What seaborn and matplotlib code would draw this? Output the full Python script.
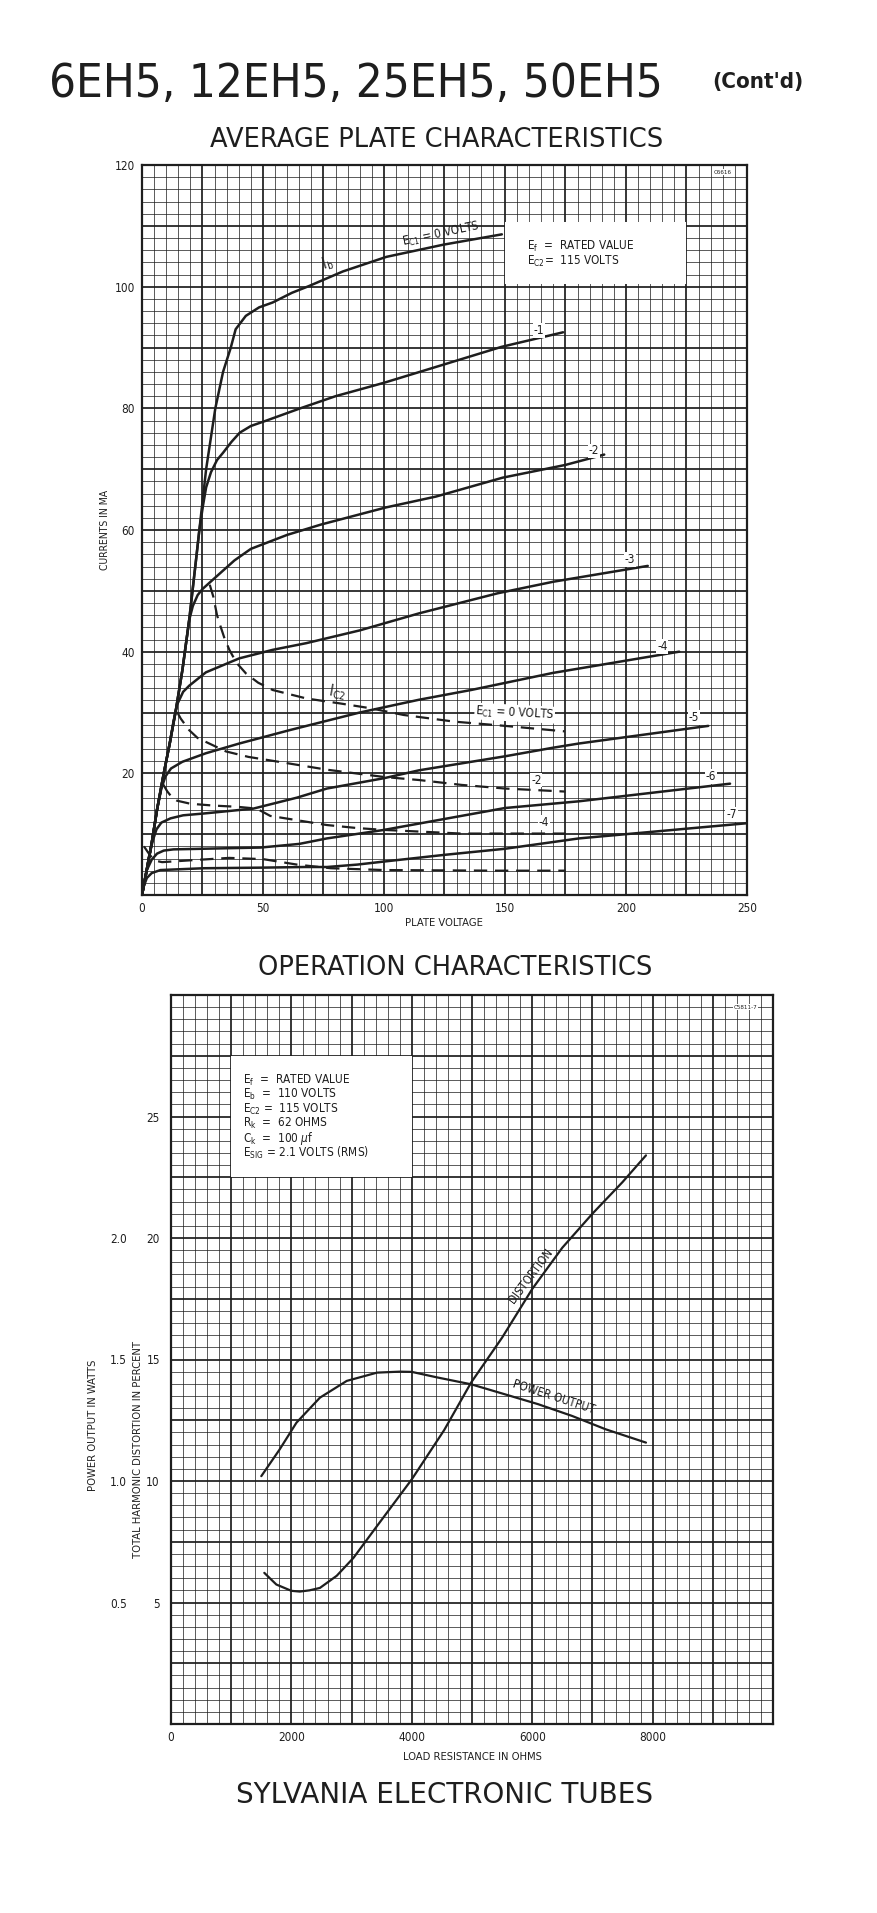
import pandas as pd
import matplotlib.pyplot as plt
import seaborn as sns
from matplotlib.ticker import MultipleLocator, FuncFormatter
from matplotlib.patches import Rectangle

# ---- Average plate characteristics: plate current Ib (plate volts, mA) ----
ib0_v = [0, 2, 4, 6.2, 9, 11.5, 14, 16.7, 19.5, 22.3, 23.7, 26.5, 30.3, 33.5, 36.7, 38.7, 42.9, 48.4, 54, 62, 69, 83, 101, 124.5, 148.7]
ib0_i = [0, 4.2, 8.5, 14, 20, 25, 30.4, 37, 45.2, 55, 60, 70, 80, 86, 90, 93, 95.2, 96.6, 97.4, 99, 100.1, 102.5, 104.9, 106.9, 108.6]
ib1_v = [0, 2, 4, 6.2, 9, 11.5, 14, 16.7, 19.5, 22.3, 23.7, 25.2, 26.5, 28.5, 31, 33.5, 37, 40.4, 45, 51.5, 65.4, 80, 100, 120.6, 148.5, 174]
ib1_i = [0, 4.2, 8.5, 14, 20, 25, 30.4, 37, 45.2, 55, 60, 64, 67, 69.5, 71.5, 72.7, 74.5, 76, 77.1, 78, 80, 82, 84.2, 86.7, 90.1, 92.5]
ib2_v = [0, 2, 4, 6.2, 9, 11.5, 14, 16.7, 19.5, 21, 23, 25, 30.6, 38.2, 45, 60, 74, 100.7, 121.5, 149, 175, 191]
ib2_i = [0, 4.2, 8.5, 14, 20, 25, 30.4, 37, 45.2, 47.5, 49.3, 50.3, 52.3, 55, 56.9, 59.2, 60.9, 63.7, 65.5, 68.6, 70.7, 72.4]
ib3_v = [0, 2, 4, 6.2, 9, 11.5, 13, 14.5, 17, 19.5, 26.4, 40.2, 54, 67.9, 90, 114.5, 147, 170, 209]
ib3_i = [0, 4.2, 8.5, 14, 20, 25, 28.5, 31.3, 33.4, 34.4, 36.6, 38.9, 40.3, 41.4, 43.5, 46.3, 49.6, 51.5, 54.1]
ib4_v = [0, 2, 4, 6.2, 8, 9.7, 12, 16.7, 26.4, 40.2, 61, 90, 114.5, 136, 169.7, 222]
ib4_i = [0, 4.2, 8.5, 14, 17.5, 19.5, 20.8, 21.9, 23.3, 24.9, 27.1, 30, 32.1, 33.7, 36.5, 40]
ib5_v = [0, 1.5, 3, 4.5, 6, 8, 11.8, 17, 25.6, 46, 64, 76.4, 100, 114.5, 150, 169.7, 180.5, 234]
ib5_i = [0, 3.2, 6.5, 9, 10.8, 11.9, 12.6, 13.1, 13.4, 14.2, 16, 17.5, 19.2, 20.5, 22.8, 24.2, 24.9, 27.8]
ib6_v = [0, 1, 2, 4, 6.2, 9, 13, 25, 49, 65, 76.4, 100, 125, 150, 180.5, 243]
ib6_i = [0, 2.2, 4.1, 5.8, 6.8, 7.3, 7.5, 7.6, 7.8, 8.4, 9.3, 10.7, 12.5, 14.3, 15.4, 18.3]
ib7_v = [0, 0.8, 2, 4, 7.6, 25.6, 50, 67, 76.4, 89, 100, 125, 150, 180.5, 250]
ib7_i = [0, 1.5, 2.8, 3.6, 4.1, 4.4, 4.5, 4.6, 4.6, 5.0, 5.5, 6.6, 7.6, 9.3, 11.8]

# ---- screen current Ic2 (dashed) ----
ic0_v = [28, 29.5, 31, 32, 34, 36.1, 39, 43, 48, 54, 68, 81.7, 94.4, 108, 129, 150, 174.7]
ic0_i = [51, 49, 46, 44.7, 42.3, 40.3, 38.2, 36.4, 34.9, 33.7, 32.3, 31.5, 30.7, 29.6, 28.5, 27.8, 26.9]
ic2_v = [14.5, 16, 19.5, 23, 27.8, 34.7, 44, 58, 76.4, 100, 114.5, 132, 150, 175]
ic2_i = [30.1, 29, 27.1, 25.8, 24.9, 23.6, 22.7, 21.8, 20.6, 19.4, 18.9, 18.1, 17.5, 17.0]
ic4_v = [8.7, 10.5, 12.5, 14.5, 20, 29.5, 39.4, 47.4, 53, 64, 76.4, 89, 100, 132, 175]
ic4_i = [18.2, 17, 16, 15.5, 15, 14.7, 14.5, 14.2, 13.0, 12.3, 11.5, 11.0, 10.7, 10.1, 10.1]
ic6_v = [0.8, 2.5, 4, 6, 8.3, 20, 36, 50, 64, 78, 100, 147, 175]
ic6_i = [8, 7, 6.2, 5.6, 5.4, 5.7, 6.1, 5.9, 5.0, 4.4, 4.1, 4.0, 4.0]

# ---- Operation characteristics ----
dist_r = [1550, 1750, 2000, 2140, 2300, 2474, 2753, 3032, 3423, 4000, 4539, 4985, 5500, 6000, 6500, 7000, 7500, 7890]
dist_pct = [6.22, 5.74, 5.48, 5.45, 5.5, 5.6, 6.1, 6.84, 8.15, 10.07, 12.1, 14.05, 15.9, 17.9, 19.6, 21.0, 22.3, 23.4]
pow_r = [1500, 1805, 2084, 2474, 2920, 3423, 3800, 4000, 4427, 4985, 5544, 6100, 6660, 7218, 7890]
pow_w = [1.02, 1.13, 1.24, 1.343, 1.412, 1.446, 1.45, 1.449, 1.426, 1.398, 1.357, 1.316, 1.268, 1.213, 1.158]

INK = "#1e1e1e"

sns.set_theme(style="white")
plt.rcParams["font.family"] = ["DejaVu Sans"]
plt.rcParams["font.stretch"] = "condensed"
plt.rcParams["text.color"] = INK

fig = plt.figure(figsize=(8.78, 19.13), dpi=100)
fig.patch.set_facecolor("white")

W, H = 878.0, 1913.0


def fx(px):
    return px / W


def fy(py):
    return 1 - py / H


def graph_paper(ax, xmaj, xmin, ymaj, ymin, xfmt, yfmt):
    ax.set_axisbelow(True)
    ax.xaxis.set_major_locator(MultipleLocator(xmaj))
    ax.xaxis.set_minor_locator(MultipleLocator(xmin))
    ax.yaxis.set_major_locator(MultipleLocator(ymaj))
    ax.yaxis.set_minor_locator(MultipleLocator(ymin))
    ax.xaxis.set_major_formatter(FuncFormatter(xfmt))
    ax.yaxis.set_major_formatter(FuncFormatter(yfmt))
    ax.grid(which="major", color=INK, lw=1.25)
    ax.grid(which="minor", color=INK, lw=0.6, alpha=0.85)
    ax.tick_params(which="both", length=0, labelsize=8.5, colors=INK, pad=5)
    for s in ax.spines.values():
        s.set_color(INK)
        s.set_linewidth(1.6)
    ax.set_xlabel("")
    ax.set_ylabel("")


# ================= top chart =================
ax1 = fig.add_axes([fx(142), fy(895), fx(747) - fx(142), fy(165) - fy(895)])

solid = pd.concat([
    pd.DataFrame({"v": v, "i": i, "ec1": g})
    for v, i, g in [(ib0_v, ib0_i, "0"), (ib1_v, ib1_i, "-1"), (ib2_v, ib2_i, "-2"),
                    (ib3_v, ib3_i, "-3"), (ib4_v, ib4_i, "-4"), (ib5_v, ib5_i, "-5"),
                    (ib6_v, ib6_i, "-6"), (ib7_v, ib7_i, "-7")]
])
dashed = pd.concat([
    pd.DataFrame({"v": v, "i": i, "ec1": g})
    for v, i, g in [(ic0_v, ic0_i, "0"), (ic2_v, ic2_i, "-2"),
                    (ic4_v, ic4_i, "-4"), (ic6_v, ic6_i, "-6")]
])

sns.lineplot(data=solid, x="v", y="i", units="ec1", estimator=None, sort=False,
             color=INK, lw=1.8, ax=ax1, zorder=3)
sns.lineplot(data=dashed, x="v", y="i", units="ec1", estimator=None, sort=False,
             color=INK, lw=1.6, ls=(0, (6, 3.5)), ax=ax1, zorder=3)

ax1.set_xlim(0, 250)
ax1.set_ylim(0, 120)
graph_paper(ax1, 25, 5, 10, 2,
            lambda v, p: f"{v:g}" if v % 50 == 0 else "",
            lambda v, p: f"{v:g}" if (v % 20 == 0 and v > 0) else "")

ax1.add_patch(Rectangle((150, 100.4), 75, 10.2, facecolor="white", edgecolor="none", zorder=1.5))
ax1.text(159, 106.6, "E$_\\mathregular{f}$  =  RATED VALUE", fontsize=8.5, va="center", zorder=4)
ax1.text(159, 104.2, "E$_\\mathregular{C2}$=  115 VOLTS", fontsize=8.5, va="center", zorder=4)
ax1.text(240, 118.8, "C6616", fontsize=4.5, ha="center", va="center", zorder=4,
         bbox=dict(facecolor="white", edgecolor="none", pad=0.5))

lbl = dict(facecolor="white", edgecolor="none", pad=0.6)
ax1.text(124, 107.4, "E$_\\mathregular{C1}$ = 0 VOLTS", fontsize=8.5, rotation=12,
         rotation_mode="anchor", ha="center", va="bottom", zorder=4)
ax1.text(78, 102.4, "I$_\\mathregular{b}$", fontsize=10.5, rotation=18,
         rotation_mode="anchor", ha="center", va="bottom", zorder=4)
for v, i, t in [(164, 92.8, "-1"), (186.7, 73.0, "-2"), (201.6, 55.2, "-3"),
                (215, 40.9, "-4"), (228, 29.2, "-5"), (235, 19.5, "-6"), (243.6, 13.2, "-7")]:
    ax1.text(v, i, t, fontsize=8.5, ha="center", va="center", zorder=4, bbox=lbl)
ax1.text(80, 31.8, "I$_\\mathregular{C2}$", fontsize=10.5, rotation=-10,
         rotation_mode="anchor", ha="center", va="bottom", zorder=4)
ax1.text(154, 29.9, "E$_\\mathregular{C1}$ = 0 VOLTS", fontsize=8.5, rotation=-3,
         ha="center", va="center", zorder=4, bbox=lbl)
ax1.text(163, 18.9, "-2", fontsize=8.5, ha="center", va="center", zorder=4, bbox=lbl)
ax1.text(166, 11.9, "-4", fontsize=8.5, ha="center", va="center", zorder=4, bbox=lbl)

fig.text(fx(105), fy(530), "CURRENTS IN MA", rotation=90, fontsize=7.5, ha="center", va="center")
fig.text(fx(444), fy(923), "PLATE VOLTAGE", fontsize=8, ha="center", va="center")

# ================= bottom chart =================
ax2 = fig.add_axes([fx(171), fy(1724), fx(773) - fx(171), fy(995) - fy(1724)])
sns.lineplot(x=dist_r, y=dist_pct, sort=False, estimator=None, color=INK, lw=1.6, ax=ax2, zorder=3)
ax2.set_xlim(0, 10000)
ax2.set_ylim(0, 30)
graph_paper(ax2, 1000, 200, 2.5, 0.5,
            lambda v, p: f"{v:.0f}" if (v % 2000 == 0 and v < 10000) else "",
            lambda v, p: f"{v:g}" if (v % 5 == 0 and 0 < v < 30) else "")
ax2.tick_params(axis="y", pad=8)

ax2.add_patch(Rectangle((1000, 22.5), 3000, 5, facecolor="white", edgecolor="none", zorder=1.5))
box_lines = ["E$_\\mathregular{f}$  =  RATED VALUE",
             "E$_\\mathregular{b}$  =  110 VOLTS",
             "E$_\\mathregular{C2}$ =  115 VOLTS",
             "R$_\\mathregular{k}$  =  62 OHMS",
             "C$_\\mathregular{k}$  =  100 $\\mu$f",
             "E$_\\mathregular{SIG}$ = 2.1 VOLTS (RMS)"]
for k, t in enumerate(box_lines):
    ax2.text(1200, 26.5 - 0.6 * k, t, fontsize=8.5, va="center", zorder=4)
ax2.text(9550, 29.5, "C5811-7", fontsize=4.5, ha="center", va="center", zorder=4,
         bbox=dict(facecolor="white", edgecolor="none", pad=0.5))

axp = ax2.twinx()
sns.lineplot(x=pow_r, y=pow_w, sort=False, estimator=None, color=INK, lw=1.6, ax=axp, zorder=3)
axp.set_ylim(0, 3)
axp.set_yticks([0.5, 1.0, 1.5, 2.0])
axp.yaxis.set_major_formatter(FuncFormatter(lambda v, p: f"{v:.1f}"))
axp.yaxis.set_ticks_position("left")
axp.spines["left"].set_position(("axes", -0.06))
for s in axp.spines.values():
    s.set_visible(False)
axp.tick_params(length=0, labelsize=8.5, colors=INK, pad=6)
axp.grid(False)
axp.set_xlabel("")
axp.set_ylabel("")

ax2.text(6070, 18.3, "DISTORTION", fontsize=8.5, rotation=53, rotation_mode="anchor",
         ha="center", va="bottom", zorder=4)
ax2.text(6330, 13.2, "POWER OUTPUT", fontsize=8.5, rotation=-18, rotation_mode="anchor",
         ha="center", va="bottom", zorder=4)

fig.text(fx(93), fy(1425), "POWER OUTPUT IN WATTS", rotation=90, fontsize=8, ha="center", va="center")
fig.text(fx(138), fy(1450), "TOTAL HARMONIC DISTORTION IN PERCENT", rotation=90, fontsize=8,
         ha="center", va="center")
fig.text(fx(472), fy(1757), "LOAD RESISTANCE IN OHMS", fontsize=8, ha="center", va="center")

# ================= headings =================
fig.text(fx(49), fy(97), "6EH5, 12EH5, 25EH5, 50EH5", fontsize=34, ha="left", va="baseline")
fig.text(fx(712), fy(88), "(Cont'd)", fontsize=16, fontweight="bold", ha="left", va="baseline")
fig.text(fx(437), fy(147), "AVERAGE PLATE CHARACTERISTICS", fontsize=18.5, fontstretch="normal",
         ha="center", va="baseline")
fig.text(fx(455), fy(975), "OPERATION CHARACTERISTICS", fontsize=18.5, fontstretch="normal",
         ha="center", va="baseline")
fig.text(fx(445), fy(1803), "SYLVANIA ELECTRONIC TUBES", fontsize=20, fontstretch="normal",
         ha="center", va="baseline")

fig.savefig("out.png", dpi=100, facecolor="white")
